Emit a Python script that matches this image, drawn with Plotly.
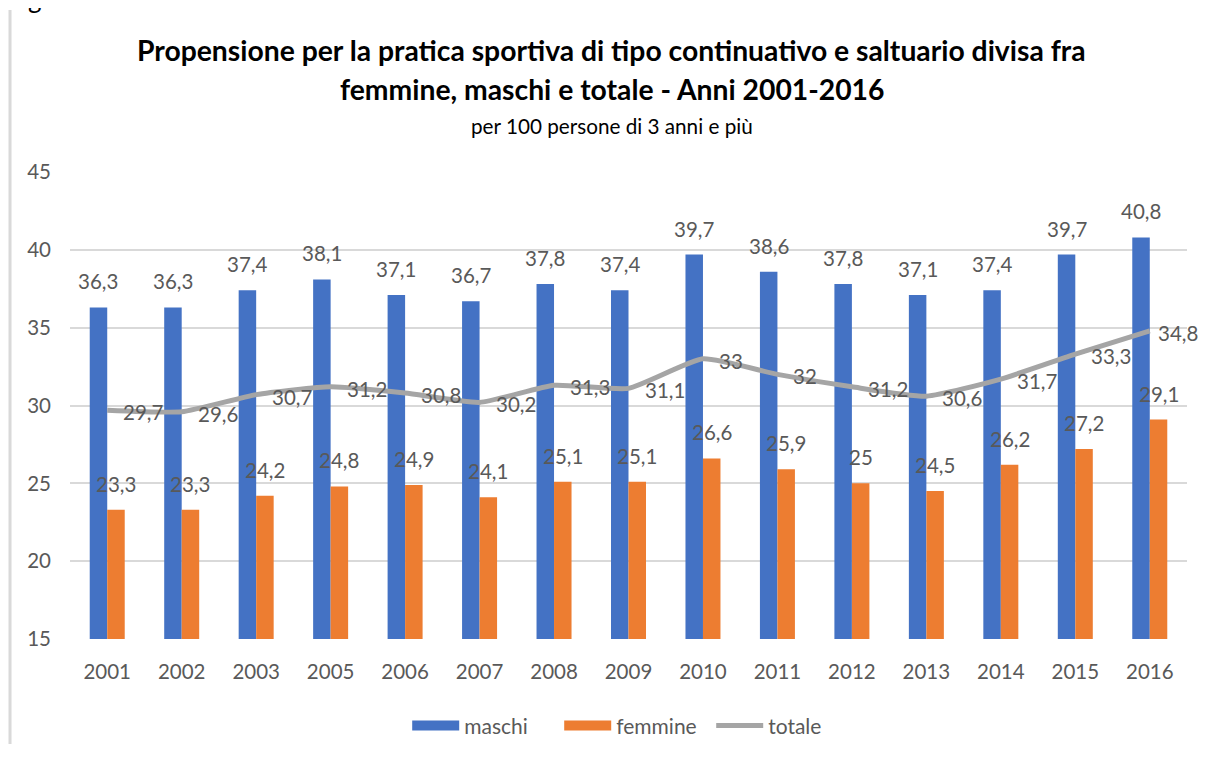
import plotly.graph_objects as go

years = ["2001", "2002", "2003", "2005", "2006", "2007", "2008", "2009",
         "2010", "2011", "2012", "2013", "2014", "2015", "2016"]
maschi = [36.3, 36.3, 37.4, 38.1, 37.1, 36.7, 37.8, 37.4, 39.7, 38.6, 37.8, 37.1, 37.4, 39.7, 40.8]
femmine = [23.3, 23.3, 24.2, 24.8, 24.9, 24.1, 25.1, 25.1, 26.6, 25.9, 25.0, 24.5, 26.2, 27.2, 29.1]
totale = [29.7, 29.6, 30.7, 31.2, 30.8, 30.2, 31.3, 31.1, 33.0, 32.0, 31.2, 30.6, 31.7, 33.3, 34.8]
y_ticks = [15, 20, 25, 30, 35, 40, 45]

BLUE = "#4472C4"
ORANGE = "#ED7D31"
GRAY = "#A5A5A5"
TXT = "#595959"
FONT = "Lato"
BW = 0.235
LBL = 20.5

idx = list(range(len(years)))


def fmt(v):
    return ("%g" % v).replace(".", ",")


fig = go.Figure()
fig.add_trace(go.Bar(x=idx, y=maschi, name="maschi", marker_color=BLUE,
                     width=BW, offset=-BW, marker_line_width=0, showlegend=False))
fig.add_trace(go.Bar(x=idx, y=femmine, name="femmine", marker_color=ORANGE,
                     width=BW, offset=0, marker_line_width=0, showlegend=False))
fig.add_trace(go.Scatter(x=idx, y=totale, name="totale", mode="lines", showlegend=False,
                         line=dict(color=GRAY, width=5, shape="spline", smoothing=0.5)))
# legend entries (wide swatches like the original)
for nm, col, w in [("maschi", BLUE, 11), ("femmine", ORANGE, 11), ("totale", GRAY, 5)]:
    fig.add_trace(go.Scatter(x=[None], y=[None], mode="lines", name=nm,
                             line=dict(color=col, width=w), hoverinfo="skip"))

ann = []
last = len(idx) - 1
for i in idx:
    ann.append(dict(x=i - BW / 2, y=maschi[i], xref="x", yref="y", text=fmt(maschi[i]),
                    showarrow=False, yanchor="bottom", yshift=12,
                    font=dict(family=FONT, size=LBL, color=TXT)))
    ann.append(dict(x=i + BW / 2, y=femmine[i], xref="x", yref="y", text=fmt(femmine[i]),
                    showarrow=False, yanchor="bottom", yshift=12,
                    font=dict(family=FONT, size=LBL, color=TXT)))
    ann.append(dict(x=i, y=totale[i], xref="x", yref="y", text=fmt(totale[i]),
                    showarrow=False, xanchor="left", yanchor="middle",
                    xshift=(6 if i == last else 14), yshift=-2,
                    font=dict(family=FONT, size=LBL, color=TXT)))

# titles
ann.append(dict(x=0.485, y=1.2612, xref="paper", yref="paper", showarrow=False,
                text="<b>Propensione per la pratica sportiva di tipo continuativo e saltuario divisa fra</b>",
                yanchor="middle", font=dict(family=FONT, size=28.3, color="black")))
ann.append(dict(x=0.485, y=1.1777, xref="paper", yref="paper", showarrow=False,
                text="<b>femmine, maschi e totale - Anni 2001-2016</b>",
                yanchor="middle", font=dict(family=FONT, size=28.3, color="black")))
ann.append(dict(x=0.485, y=1.0985, xref="paper", yref="paper", showarrow=False,
                text="per 100 persone di 3 anni e più",
                yanchor="middle", font=dict(family=FONT, size=20.7, color="black")))
# cropped page text fragment at top-left
ann.append(dict(x=-0.031, y=1.333, xref="paper", yref="paper", showarrow=False,
                text="g", xanchor="center", yanchor="bottom",
                font=dict(family=FONT, size=26, color="black")))

fig.update_layout(
    width=1201, height=736,
    margin=dict(l=62, r=22, t=164, b=105, autoexpand=False),
    paper_bgcolor="white", plot_bgcolor="white",
    barmode="overlay",
    showlegend=True,
    legend=dict(orientation="h", x=0.506, y=0.0245, yref="container",
                xanchor="center", yanchor="middle",
                font=dict(family=FONT, size=21, color=TXT), itemwidth=47,
                entrywidth=90, entrywidthmode="pixels",
                traceorder="normal"),
    annotations=ann,
    font=dict(family=FONT, color=TXT),
    shapes=[dict(type="line", xref="paper", yref="paper",
                 x0=-0.0537, x1=-0.0537, y0=1 + 162 / 467, y1=-0.3,
                 line=dict(color="#D9D9D9", width=3))],
)
fig.update_xaxes(range=[-0.5, len(years) - 0.5], tickmode="array", tickvals=idx, ticktext=years,
                 showgrid=False, zeroline=False, showline=False, ticks="",
                 ticklabelstandoff=18,
                 tickfont=dict(family=FONT, size=LBL, color=TXT))
fig.update_yaxes(range=[15, 45], tickmode="array", tickvals=y_ticks,
                 showgrid=True, gridcolor="#D9D9D9", gridwidth=2,
                 zeroline=False, showline=False, ticks="", ticklabelstandoff=18,
                 tickfont=dict(family=FONT, size=LBL, color=TXT))

fig.write_html("out.html")
